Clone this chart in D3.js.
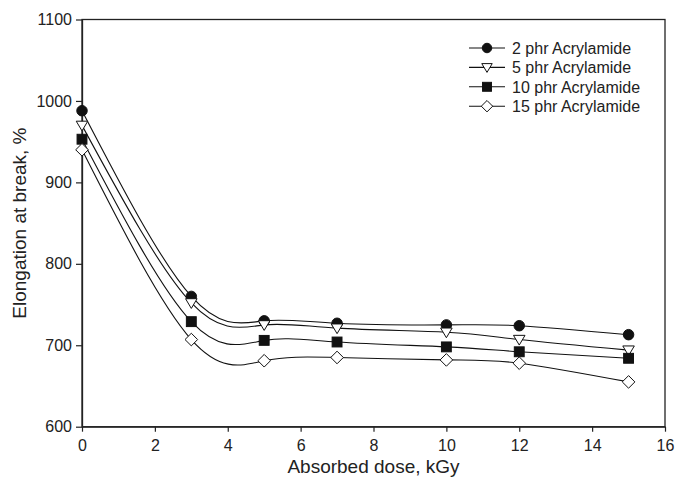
<!DOCTYPE html>
<html><head><meta charset="utf-8">
<script src="https://cdn.jsdelivr.net/npm/d3@7"></script>
<style>body{margin:0;background:#fff}svg{display:block}text{font-family:"Liberation Sans",Arial,sans-serif;fill:#222}</style>
</head><body><svg id="c" width="676" height="477"></svg>
<script>
const doses = [0, 3, 5, 7, 10, 12, 15];
const seriesNames = ["2 phr Acrylamide", "5 phr Acrylamide", "10 phr Acrylamide", "15 phr Acrylamide"];
const phr2  = [988, 760, 730, 727, 725, 724, 713];
const phr5  = [970, 752, 725, 721, 716, 707, 694];
const phr10 = [953, 729, 706, 704, 698, 692, 684];
const phr15 = [940, 707, 681, 685, 682, 678, 655];
const xTicks = [0, 2, 4, 6, 8, 10, 12, 14, 16];
const yTicks = [600, 700, 800, 900, 1000, 1100];
const symbols = ["circle", "triangle", "square", "diamond"];
const fills = ["#111", "#fff", "#111", "#fff"];

const svg = d3.select("#c");
const L = 82, R = 665, T = 19.5, B = 426.7;
const x = d3.scaleLinear().domain([0, 16]).range([L, R]);
const y = d3.scaleLinear().domain([600, 1100]).range([B, T]);

const data = [phr2, phr5, phr10, phr15].map((vals, i) => ({
  name: seriesNames[i], sym: symbols[i], fill: fills[i],
  pts: vals.map((v, j) => ({ x: doses[j], y: v }))
}));

// frame
svg.append("rect").attr("x", L).attr("y", T).attr("width", R - L).attr("height", B - T)
  .attr("fill", "none").attr("stroke", "#222").attr("stroke-width", 1.3);

const xAxis = svg.append("g").attr("transform", `translate(0,${B})`)
  .call(d3.axisBottom(x).tickValues(xTicks).tickFormat(d3.format("d")).tickSize(5).tickSizeOuter(0).tickPadding(4));
const yAxis = svg.append("g").attr("transform", `translate(${L},0)`)
  .call(d3.axisLeft(y).tickValues(yTicks).tickFormat(d3.format("d")).tickSize(6).tickSizeOuter(0).tickPadding(4));
[xAxis, yAxis].forEach(g => {
  g.select(".domain").attr("stroke", "#222").attr("stroke-width", 1.3);
  g.selectAll(".tick line").attr("stroke", "#222").attr("stroke-width", 1.2);
  g.selectAll(".tick text").attr("font-size", 16).attr("font-family", '"Liberation Sans",Arial,sans-serif').attr("fill", "#222");
});
xAxis.selectAll(".tick text").attr("dy", "0.95em");

svg.append("text").attr("x", (L + R) / 2).attr("y", 473).attr("text-anchor", "middle")
  .attr("font-size", 19).text("Absorbed dose, kGy");
svg.append("text").attr("transform", `translate(26,${(T + B) / 2}) rotate(-90)`).attr("text-anchor", "middle")
  .attr("font-size", 19).text("Elongation at break, %");

const line = d3.line().x(d => x(d.x)).y(d => y(d.y)).curve(d3.curveNatural);

function marker(g, sym, fill, cx, cy, s) {
  if (sym === "circle") {
    g.append("circle").attr("cx", cx).attr("cy", cy).attr("r", s * 0.5).attr("fill", fill).attr("stroke", "#111").attr("stroke-width", 1);
  } else if (sym === "square") {
    g.append("rect").attr("x", cx - s * 0.47).attr("y", cy - s * 0.47).attr("width", s * 0.94).attr("height", s * 0.94)
      .attr("fill", fill).attr("stroke", "#111").attr("stroke-width", 1);
  } else if (sym === "triangle") {
    const h = s * 0.5;
    g.append("path").attr("d", `M${cx - h * 1.1},${cy - h * 0.8}L${cx + h * 1.1},${cy - h * 0.8}L${cx},${cy + h * 1.05}Z`)
      .attr("fill", fill).attr("stroke", "#111").attr("stroke-width", 1);
  } else {
    const h = s * 0.6;
    g.append("path").attr("d", `M${cx},${cy - h}L${cx + h},${cy}L${cx},${cy + h}L${cx - h},${cy}Z`)
      .attr("fill", fill).attr("stroke", "#111").attr("stroke-width", 1);
  }
}

data.forEach(s => {
  svg.append("path").attr("d", line(s.pts)).attr("fill", "none").attr("stroke", "#111").attr("stroke-width", 1.1);
});
data.forEach(s => {
  const g = svg.append("g");
  s.pts.forEach(p => marker(g, s.sym, s.fill, x(p.x), y(p.y), 10.5));
});

// legend
const leg = svg.append("g");
data.forEach((s, i) => {
  const ly = 48 + i * 19.4;
  leg.append("line").attr("x1", 469).attr("x2", 505).attr("y1", ly).attr("y2", ly).attr("stroke", "#111").attr("stroke-width", 1.1);
  marker(leg, s.sym, s.fill, 487, ly, 9.5);
  leg.append("text").attr("x", 512).attr("y", ly).attr("dy", "0.36em").attr("font-size", 16).text(s.name);
});
</script></body></html>
